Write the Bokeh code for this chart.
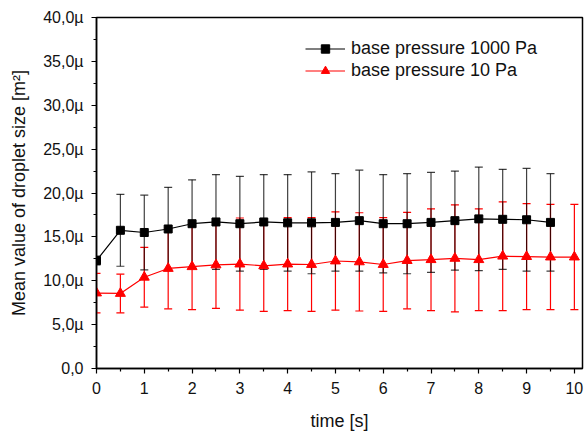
from bokeh.plotting import figure
from bokeh.models import (Range1d, FixedTicker, Whisker, TeeHead, ColumnDataSource,
                          Legend, LegendItem)
from bokeh.embed import file_html
from bokeh.resources import INLINE

# ---- data (values in units of 1e-6 m^2) ----
t_1000 = [0, 0.5, 1, 1.5, 2, 2.5, 3, 3.5, 4, 4.5, 5, 5.5, 6, 6.5, 7, 7.5, 8, 8.5, 9, 9.5]
mean_1000 = [12.3, 15.75, 15.5, 15.9, 16.5, 16.7, 16.5, 16.7, 16.6, 16.6,
             16.65, 16.85, 16.5, 16.5, 16.65, 16.85, 17.05, 17.0, 16.95, 16.65]
err_1000 = [0.5, 4.1, 4.25, 4.75, 5.0, 5.4, 5.4, 5.4, 5.5, 5.8,
            5.55, 5.75, 5.6, 5.7, 5.7, 5.65, 5.9, 5.7, 5.85, 5.55]

t_10 = [0, 0.5, 1, 1.5, 2, 2.5, 3, 3.5, 4, 4.5, 5, 5.5, 6, 6.5, 7, 7.5, 8, 8.5, 9, 9.5, 10]
mean_10 = [8.6, 8.55, 10.4, 11.4, 11.6, 11.8, 11.9, 11.7, 11.9, 11.85, 12.25,
           12.15, 11.85, 12.3, 12.4, 12.55, 12.4, 12.8, 12.75, 12.7, 12.7]
err_10 = [2.25, 2.2, 3.4, 4.6, 4.9, 4.95, 5.25, 5.2, 5.3, 5.35, 5.6,
          5.6, 5.35, 5.5, 5.8, 6.1, 5.8, 6.2, 6.05, 6.0, 6.0]

x_ticks = [0, 1, 2, 3, 4, 5, 6, 7, 8, 9, 10]
y_ticks = [0, 5, 10, 15, 20, 25, 30, 35, 40]
y_tick_labels = ["0,0", "5,0µ", "10,0µ", "15,0µ", "20,0µ", "25,0µ", "30,0µ", "35,0µ", "40,0µ"]

series_labels = ["base pressure 1000 Pa", "base pressure 10 Pa"]

FONT = "Liberation Sans"

p = figure(width=585, height=433, output_backend="svg", toolbar_location=None,
           x_range=Range1d(0, 10.17), y_range=Range1d(0, 40),
           min_border_left=96, min_border_right=3, min_border_top=17, min_border_bottom=65)
p.grid.visible = False
p.outline_line_color = "black"
p.outline_line_width = 1.5
p.background_fill_color = "white"
p.border_fill_color = "white"

for ax in (p.xaxis[0], p.yaxis[0]):
    ax.axis_line_width = 1.5
    ax.axis_line_color = "black"
    ax.major_tick_in = 0
    ax.major_tick_out = 5
    ax.minor_tick_in = 0
    ax.minor_tick_out = 3
    ax.major_tick_line_width = 1.2
    ax.minor_tick_line_width = 1.2
    ax.major_label_text_font = FONT
    ax.major_label_text_font_size = "16px"
    ax.major_label_text_color = "#111111"
    ax.axis_label_text_font = FONT
    ax.axis_label_text_font_size = "18px"
    ax.axis_label_text_font_style = "normal"
    ax.axis_label_text_color = "#111111"
    ax.major_label_standoff = 8

p.xaxis.ticker = FixedTicker(ticks=x_ticks, minor_ticks=[v + 0.5 for v in x_ticks[:-1]])
p.yaxis.ticker = FixedTicker(ticks=y_ticks, minor_ticks=[v + 2.5 for v in y_ticks[:-1]])
p.yaxis.major_label_overrides = {v: s for v, s in zip(y_ticks, y_tick_labels)}
p.xaxis.axis_label = "time [s]"
p.yaxis.axis_label = "Mean value of droplet size [m²]"
p.xaxis.axis_label_standoff = 14
p.yaxis.axis_label_standoff = 11

src_1000 = ColumnDataSource(dict(x=t_1000, y=mean_1000,
                                 lo=[m - e for m, e in zip(mean_1000, err_1000)],
                                 hi=[m + e for m, e in zip(mean_1000, err_1000)]))
src_10 = ColumnDataSource(dict(x=t_10, y=mean_10,
                               lo=[m - e for m, e in zip(mean_10, err_10)],
                               hi=[m + e for m, e in zip(mean_10, err_10)]))

w_red = Whisker(base="x", lower="lo", upper="hi", source=src_10,
                line_color="red", line_width=1.2,
                upper_head=TeeHead(size=8, line_color="red", line_width=1.2),
                lower_head=TeeHead(size=8, line_color="red", line_width=1.2))
w_blk = Whisker(base="x", lower="lo", upper="hi", source=src_1000,
                line_color="black", line_width=1.2, line_alpha=0.75,
                upper_head=TeeHead(size=8, line_color="black", line_width=1.2, line_alpha=0.75),
                lower_head=TeeHead(size=8, line_color="black", line_width=1.2, line_alpha=0.75))
p.add_layout(w_red)
p.add_layout(w_blk)

l1 = p.line("x", "y", source=src_1000, line_color="black", line_width=1.2)
l2 = p.line("x", "y", source=src_10, line_color="red", line_width=1.2)
s1 = p.scatter("x", "y", source=src_1000, marker="square", size=8,
               fill_color="black", line_color="black")
s2 = p.scatter("x", "y", source=src_10, marker="triangle", size=10,
               fill_color="red", line_color="red")

legend = Legend(items=[LegendItem(label=series_labels[0], renderers=[l1, s1]),
                       LegendItem(label=series_labels[1], renderers=[l2, s2])],
                location=(209, 287), padding=0, margin=0, spacing=1,
                glyph_width=40, glyph_height=21, label_height=21, label_standoff=6,
                border_line_color=None, background_fill_alpha=0,
                label_text_font=FONT, label_text_font_size="18px",
                label_text_color="#111111")
p.add_layout(legend)

open("out.html", "w").write(file_html(p, INLINE))
